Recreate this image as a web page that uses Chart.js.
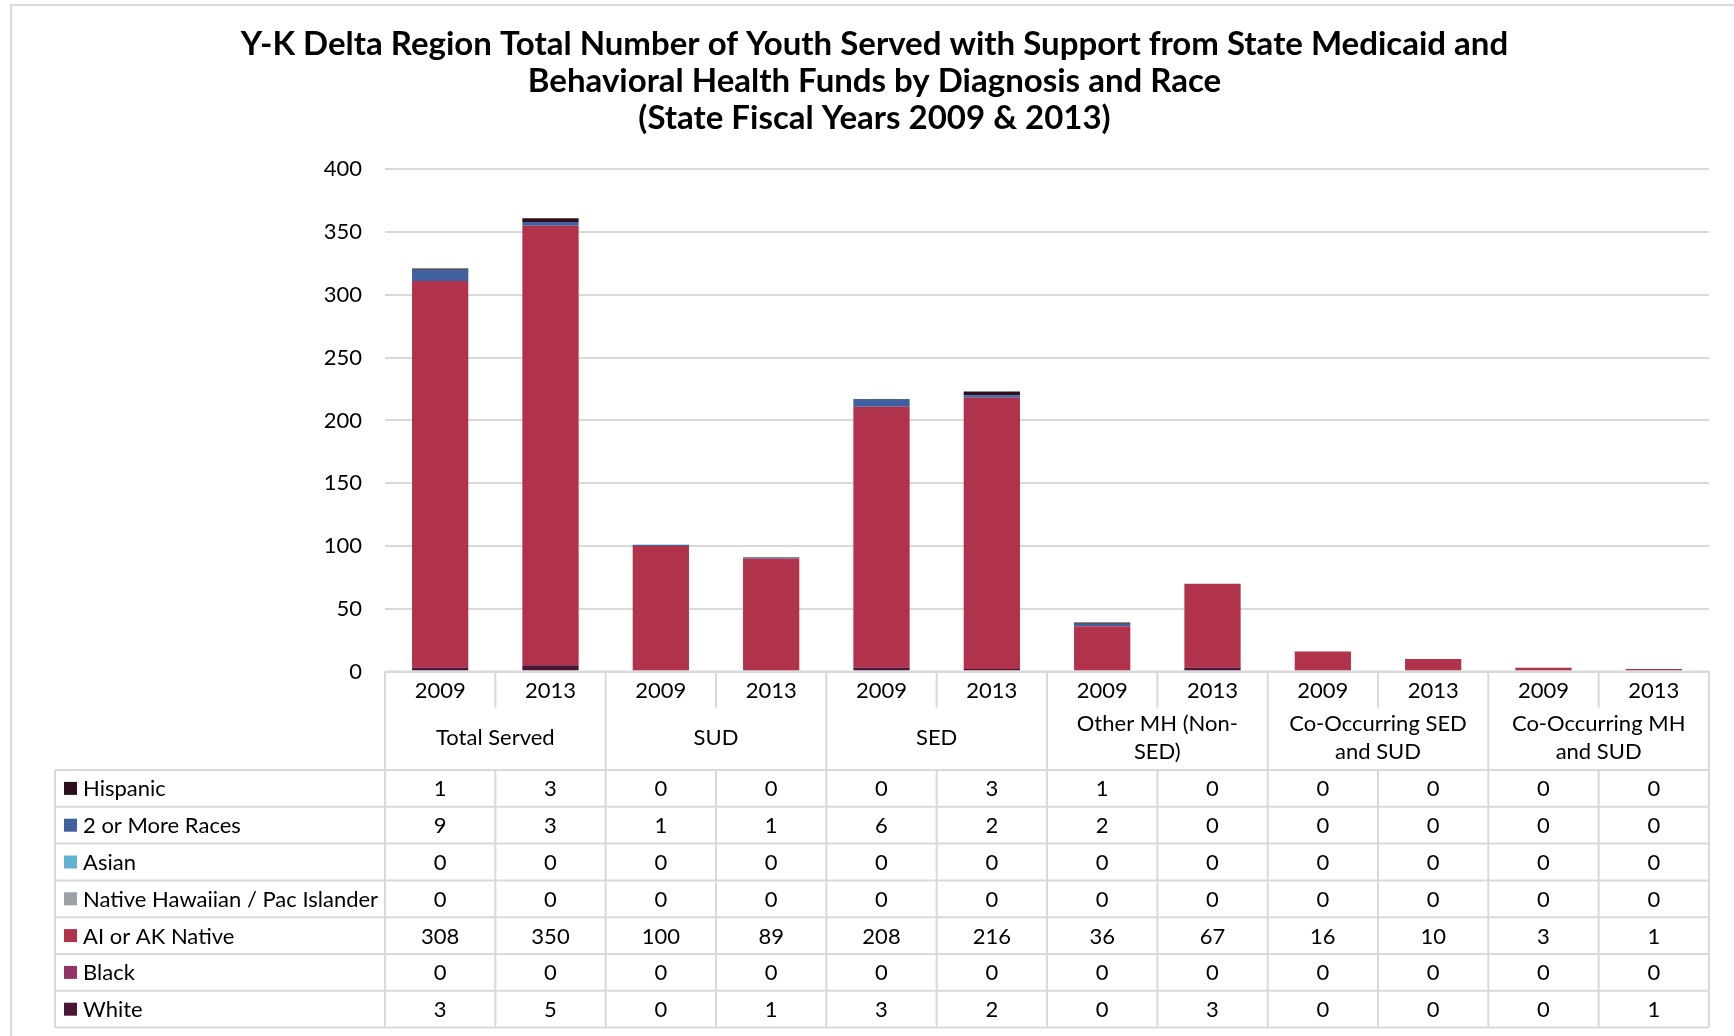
<!DOCTYPE html>
<html>
<head>
<meta charset="utf-8">
<script src="https://cdn.jsdelivr.net/npm/chart.js@4.4.1/dist/chart.umd.min.js"></script>
<style>
  body { margin: 0; background: #fff; }
  #wrap { width: 1734px; height: 1036px; position: relative; }
</style>
</head>
<body>
<div id="wrap"><canvas id="chart"></canvas></div>
<script>
const years = ['2009', '2013'];
const groupLines = [
  ['Total Served'],
  ['SUD'],
  ['SED'],
  ['Other MH (Non-', 'SED)'],
  ['Co-Occurring SED', 'and SUD'],
  ['Co-Occurring MH', 'and SUD'],
];
const labels = [
  'Total Served 2009', 'Total Served 2013',
  'SUD 2009', 'SUD 2013',
  'SED 2009', 'SED 2013',
  'Other MH (Non-SED) 2009', 'Other MH (Non-SED) 2013',
  'Co-Occurring SED and SUD 2009', 'Co-Occurring SED and SUD 2013',
  'Co-Occurring MH and SUD 2009', 'Co-Occurring MH and SUD 2013',
];

// table order, top to bottom
const raceNames = ['Hispanic', '2 or More Races', 'Asian', 'Native Hawaiian / Pac Islander', 'AI or AK Native', 'Black', 'White'];
const raceColors = ['#2d0e1f', '#4061a0', '#62b2d2', '#9aa0a8', '#b1324b', '#923468', '#4b1535'];

const hispanic = [1, 3, 0, 0, 0, 3, 1, 0, 0, 0, 0, 0];
const twoOrMore = [9, 3, 1, 1, 6, 2, 2, 0, 0, 0, 0, 0];
const asian = [0, 0, 0, 0, 0, 0, 0, 0, 0, 0, 0, 0];
const nativeHawaiian = [0, 0, 0, 0, 0, 0, 0, 0, 0, 0, 0, 0];
const aiAkNative = [308, 350, 100, 89, 208, 216, 36, 67, 16, 10, 3, 1];
const black = [0, 0, 0, 0, 0, 0, 0, 0, 0, 0, 0, 0];
const white = [3, 5, 0, 1, 3, 2, 0, 3, 0, 0, 0, 1];

const raceValues = [hispanic, twoOrMore, asian, nativeHawaiian, aiAkNative, black, white];

const FONT = 'Lato, "Open Sans", sans-serif';
const LINE = '#d9d9d9';

// first dataset sits at the bottom of the stack, so reverse the table order
const datasets = raceNames.map((name, i) => ({
  label: name,
  data: raceValues[i],
  backgroundColor: raceColors[i],
  borderWidth: 0,
})).reverse();

const tablePlugin = {
  id: 'dataTable',
  beforeDraw(chart) {
    const ctx = chart.ctx;
    ctx.save();
    ctx.strokeStyle = LINE;
    ctx.lineWidth = 2;
    ctx.beginPath();
    ctx.moveTo(11, 1036);
    ctx.lineTo(11, 5);
    ctx.lineTo(1734, 5);
    ctx.stroke();
    ctx.restore();
  },
  afterDraw(chart) {
    const ctx = chart.ctx;
    const area = chart.chartArea;
    const xs = chart.scales.x;
    const colW = area.width / labels.length;
    const yearTop = area.bottom;
    const yearSep = area.bottom + 36;
    const rowTop = 770;
    const rowH = 36.8;
    const tableLeft = 55;
    const tableBottom = rowTop + rowH * raceNames.length;

    ctx.save();
    ctx.strokeStyle = LINE;
    ctx.lineWidth = 2;
    ctx.beginPath();
    // axis line
    ctx.moveTo(area.left, yearTop);
    ctx.lineTo(area.right, yearTop);
    // row lines
    for (let r = 0; r <= raceNames.length; r++) {
      const y = rowTop + r * rowH;
      ctx.moveTo(tableLeft, y);
      ctx.lineTo(area.right, y);
    }
    ctx.moveTo(tableLeft, rowTop);
    ctx.lineTo(tableLeft, tableBottom);
    for (let i = 0; i <= labels.length; i++) {
      const x = area.left + i * colW;
      if (i % 2 === 0) {
        ctx.moveTo(x, yearTop);
        ctx.lineTo(x, tableBottom);
      } else {
        ctx.moveTo(x, yearTop);
        ctx.lineTo(x, yearSep);
        ctx.moveTo(x, rowTop);
        ctx.lineTo(x, tableBottom);
      }
    }
    ctx.stroke();

    ctx.fillStyle = '#000';
    ctx.font = '22px ' + FONT;
    ctx.textAlign = 'center';
    ctx.textBaseline = 'middle';
    labels.forEach((l, i) => {
      ctx.fillText(years[i % 2], xs.getPixelForValue(i), yearTop + 19);
    });
    groupLines.forEach((lines, g) => {
      const cx = area.left + (g * 2 + 1) * colW;
      if (lines.length === 1) {
        ctx.fillText(lines[0], cx, 738);
      } else {
        ctx.fillText(lines[0], cx, 724);
        ctx.fillText(lines[1], cx, 752);
      }
    });

    raceNames.forEach((name, r) => {
      const cy = rowTop + r * rowH + rowH / 2;
      ctx.fillStyle = raceColors[r];
      ctx.fillRect(64, cy - 6.5, 13, 13);
      ctx.fillStyle = '#000';
      ctx.textAlign = 'left';
      ctx.fillText(name, 83, cy + 1);
      ctx.textAlign = 'center';
      raceValues[r].forEach((v, i) => {
        ctx.fillText(String(v), xs.getPixelForValue(i), cy + 1);
      });
    });
    ctx.restore();
  },
};

new Chart(document.getElementById('chart'), {
  type: 'bar',
  data: { labels: labels, datasets: datasets },
  plugins: [tablePlugin],
  options: {
    responsive: true,
    maintainAspectRatio: false,
    animation: false,
    devicePixelRatio: 1,
    layout: { padding: { left: 40, right: 25, top: 0, bottom: 364.5 } },
    datasets: { bar: { categoryPercentage: 1, barPercentage: 0.51 } },
    plugins: {
      legend: { display: false },
      tooltip: { enabled: false },
      title: {
        display: true,
        text: [
          'Y-K Delta Region Total Number of Youth Served with Support from State Medicaid and',
          'Behavioral Health Funds by Diagnosis and Race',
          '(State Fiscal Years 2009 & 2013)',
        ],
        color: '#000',
        font: { family: FONT, size: 33, weight: 'bold', lineHeight: 1.12 },
        padding: { top: 25.5, bottom: 33 },
      },
    },
    scales: {
      x: { display: false, stacked: true },
      y: {
        stacked: true,
        min: 0,
        max: 400,
        afterFit: (scale) => { scale.width = 345; },
        border: { display: false },
        grid: { color: LINE, lineWidth: 2, drawTicks: false },
        ticks: {
          stepSize: 50,
          padding: 23,
          color: '#000',
          font: { family: FONT, size: 22 },
        },
      },
    },
  },
});
</script>
</body>
</html>
